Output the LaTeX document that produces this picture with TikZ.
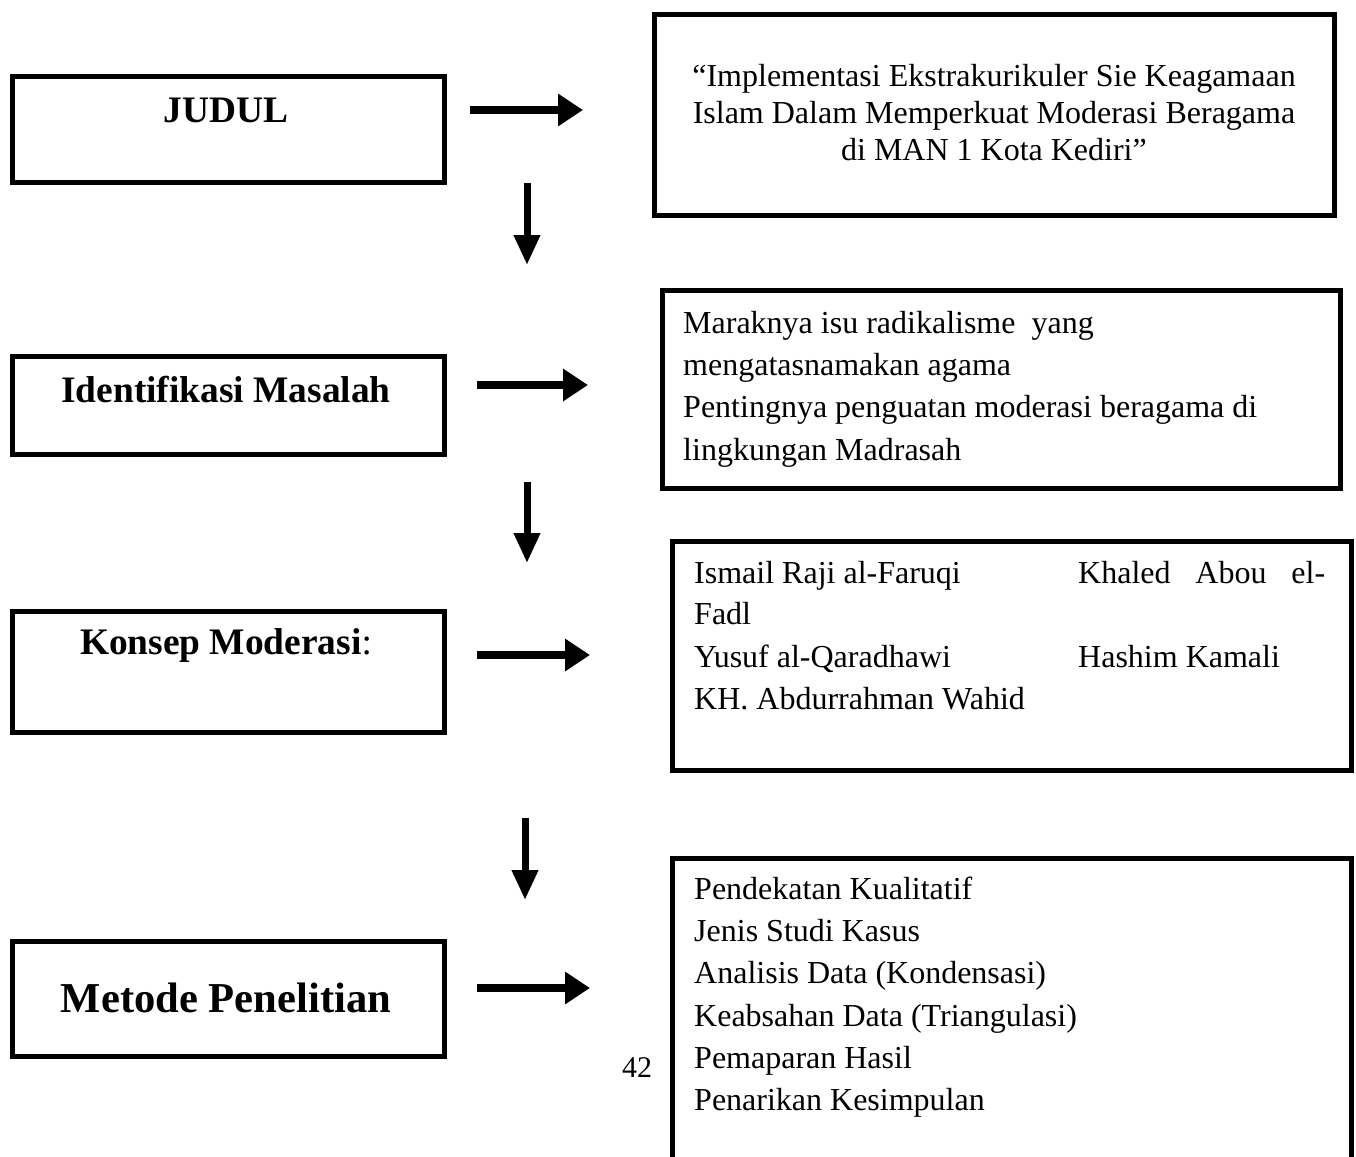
\documentclass[tikz,border=0pt]{standalone}
\usepackage{fontspec}
\setmainfont{Liberation Serif}
\usetikzlibrary{arrows.meta}
\begin{document}
\begin{tikzpicture}[x=1pt,y=-1pt,
  box/.style={draw=black,line width=5pt,inner sep=0pt,anchor=north west},
  lbl/.style={inner sep=0pt,font=\fontsize{37.4}{40}\selectfont\bfseries},
  body/.style={inner sep=0pt,anchor=base west,font=\fontsize{32}{40}\selectfont},
  harrow/.style={line width=8pt,-{Triangle[length=25pt,width=31pt]}},
  varrow/.style={line width=7pt,-{Triangle[length=30pt,width=25pt]}}]
\useasboundingbox (0,0) rectangle (1356,1156);
\clip (0,0) rectangle (1356,1156);
% left boxes
\node[box,minimum width=432pt,minimum height=106pt] (b1) at (10,74) {};
\node[box,minimum width=432pt,minimum height=98pt] (b2) at (10,354) {};
\node[box,minimum width=432pt,minimum height=121pt] (b3) at (10,609) {};
\node[box,minimum width=432pt,minimum height=115pt] (b4) at (10,939) {};
\node[lbl] (t1) at (226,110) {JUDUL};
\node[lbl] (t2) at (226,390) {Identifikasi Masalah};
\node[lbl] (t3) at (226,645) {Konsep Moderasi{\mdseries:}};
\node[lbl,font=\fontsize{42.6}{48}\selectfont\bfseries] (t4) at (226,998) {Metode Penelitian};
% right boxes
\node[box,minimum width=680pt,minimum height=201pt] (r1) at (652,12) {};
\node[box,minimum width=678pt,minimum height=198pt] (r2) at (660,288) {};
\node[box,minimum width=679pt,minimum height=229pt] (r3) at (670,539) {};
\node[box,minimum width=679pt,minimum height=330pt] (r4) at (670,856) {};
% title text
\node[inner sep=0pt,align=center,font=\fontsize{32}{37}\selectfont] (title) at (994,113)
  {``Implementasi Ekstrakurikuler Sie Keagamaan\\Islam Dalam Memperkuat Moderasi Beragama\\di MAN 1 Kota Kediri''};
% masalah text
\node[body] (m1) at (683,333) {Maraknya isu radikalisme\ \ yang};
\node[body] (m2) at (683,375) {mengatasnamakan agama};
\node[body] (m3) at (683,417) {Pentingnya penguatan moderasi beragama di};
\node[body] (m4) at (683,460) {lingkungan Madrasah};
% konsep text
\node[body] (k1) at (694,583) {Ismail Raji al-Faruqi};
\node[body,text width=247pt] (k2) at (1078,583) {Khaled\hfill Abou\hfill el-};
\node[body] (k3) at (694,624) {Fadl};
\node[body] (k4) at (694,667) {Yusuf al-Qaradhawi};
\node[body] (k5) at (1078,667) {Hashim Kamali};
\node[body] (k6) at (694,709) {KH. Abdurrahman Wahid};
% metode text
\node[body] (p1) at (694,899) {Pendekatan Kualitatif};
\node[body] (p2) at (694,941) {Jenis Studi Kasus};
\node[body] (p3) at (694,983) {Analisis Data (Kondensasi)};
\node[body] (p4) at (694,1026) {Keabsahan Data (Triangulasi)};
\node[body] (p5) at (694,1068) {Pemaparan Hasil};
\node[body] (p6) at (694,1110) {Penarikan Kesimpulan};
\node[inner sep=0pt,font=\fontsize{30}{34}\selectfont] (pg) at (637,1068) {42};
% arrows
\coordinate (h1a) at (470,110); \coordinate (h1b) at (583,110);
\coordinate (h2a) at (477,385); \coordinate (h2b) at (588,385);
\coordinate (h3a) at (477,655); \coordinate (h3b) at (590,655);
\coordinate (h4a) at (477,988); \coordinate (h4b) at (590,988);
\coordinate (v1a) at (527,183); \coordinate (v1b) at (527,265);
\coordinate (v2a) at (527,482); \coordinate (v2b) at (527,563);
\coordinate (v3a) at (525,818); \coordinate (v3b) at (525,900);
\draw[harrow] (h1a) -- (h1b);
\draw[harrow] (h2a) -- (h2b);
\draw[harrow] (h3a) -- (h3b);
\draw[harrow] (h4a) -- (h4b);
\draw[varrow] (v1a) -- (v1b);
\draw[varrow] (v2a) -- (v2b);
\draw[varrow] (v3a) -- (v3b);
\end{tikzpicture}
\end{document}
